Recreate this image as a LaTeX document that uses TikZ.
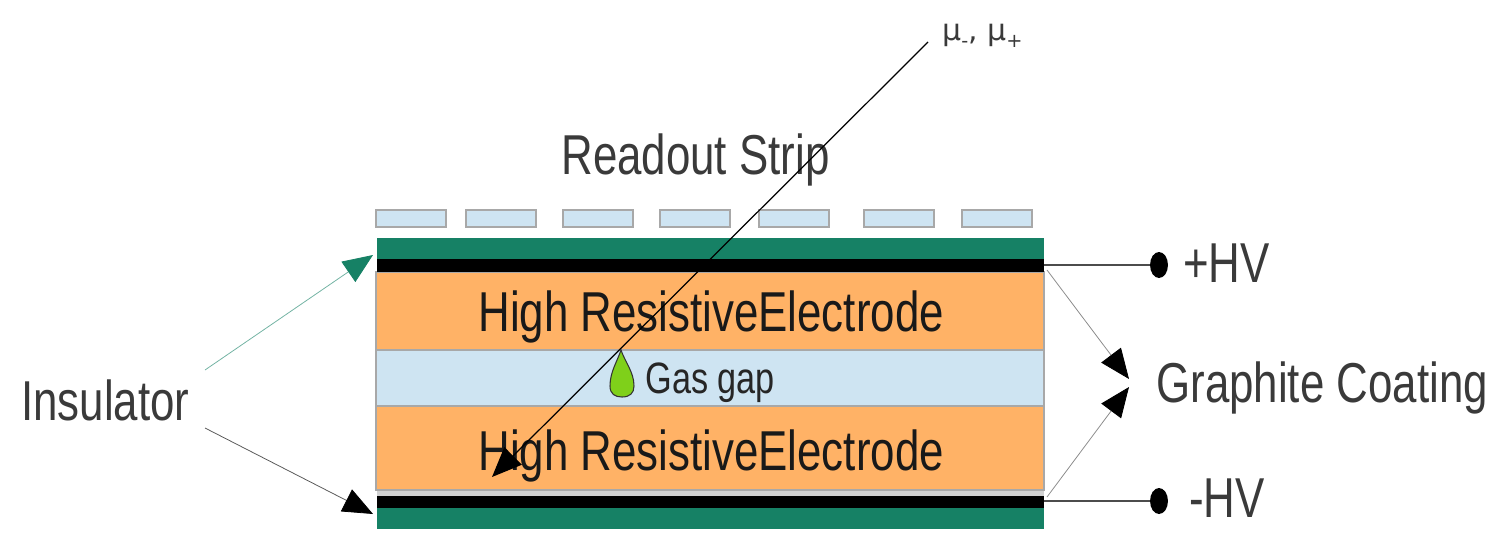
\documentclass[tikz,border=0pt]{standalone}
\usepackage{fontspec}
\usetikzlibrary{arrows.meta,shapes.geometric}
\setmainfont{Liberation Sans}
\newfontfamily\nar[FakeStretch=0.78]{Liberation Sans}
\definecolor{gr}{HTML}{168165}
\definecolor{org}{HTML}{FFB266}
\definecolor{lb}{HTML}{CEE4F2}
\definecolor{edge}{HTML}{A8A8A8}
\definecolor{tx}{HTML}{3A3A3A}
\definecolor{drop}{HTML}{7FD01A}
\tikzset{
 x=0.02cm,y=-0.02cm,
 strip/.style={draw=edge,line width=1.2pt,fill=lb},
 cell/.style={draw=edge,line width=1pt,fill=#1},
 lab/.style={inner sep=0pt,anchor=base west,text=tx,font=\nar\fontsize{#1}{#1}\selectfont},
 wire/.style={draw=black!70,line width=0.7pt},
 hv dot/.style={ellipse,fill=black,inner sep=0pt,minimum width=10.2pt,minimum height=14.8pt},
 pointer/.style 2 args={draw=#1,line width=0.45pt,-{Triangle[length=17pt,width=14pt,color=#2,fill=#2]}},
}
\begin{document}
\begin{tikzpicture}
\useasboundingbox (0,0) rectangle (1491,534);
% strips
\foreach \a/\b in {376/446,466/536,563/633,660/730,759/829,864/934,962/1032}
  \draw[strip] (\a,210) rectangle (\b,227);
% layers
\fill[gr] (377,238) rectangle (1044,259);
\fill[gr] (377,508) rectangle (1044,529);
\draw[cell=org] (376,272) rectangle (1044,350);
\draw[cell=lb] (376,350) rectangle (1044,406);
\draw[cell=org] (376,406) rectangle (1044,490);
\fill[black!18] (377,491) rectangle (1044,496);
\fill[black] (377,259) rectangle (1044,272);
\fill[black] (377,496) rectangle (1044,508);
% anchors
\coordinate (topE) at (1044,265);
\coordinate (botE) at (1044,501);
\coordinate (topS) at (1047,270);
\coordinate (botS) at (1047,497);
\coordinate (tipA) at (1129,379);
\coordinate (tipB) at (1129,387);
\coordinate (insA) at (205,370);
\coordinate (insB) at (205,428);
\coordinate (tipC) at (373,255);
\coordinate (tipD) at (373,514);
\coordinate (muS) at (928,42);
\coordinate (muE) at (492,477);
% dots and wires
\node[hv dot] (dotA) at (1159,265) {};
\node[hv dot] (dotB) at (1159,501) {};
\draw[wire] (topE) -- (dotA);
\draw[wire] (botE) -- (dotB);
% arrows
\draw[pointer={black!45}{black}] (topS) -- (tipA);
\draw[pointer={black!45}{black}] (botS) -- (tipB);
\draw[pointer={gr!60}{gr}] (insA) -- (tipC);
\draw[pointer={black!65}{black}] (insB) -- (tipD);
% drop
\draw[fill=drop,draw=black!80,line width=0.6pt] (621,350) .. controls (617,362) and (610,372) .. (610,386)
  .. controls (610,394) and (615,397) .. (622,397) .. controls (630,397) and (634,393) .. (634,386)
  .. controls (634,372) and (625,362) .. (621,350) -- cycle;
% labels
\node[lab=32,text=black!90] (e1) at (478,331) {High ResistiveElectrode};
\node[lab=32,text=black!90] (e2) at (478,470) {High ResistiveElectrode};
\node[lab=25,text=black!85] (gas) at (645,393) {Gas gap};
\node[lab=32] (ro) at (561,174) {Readout Strip};
\node[lab=32] (ins) at (21,420) {Insulator};
\node[lab=32] (gc) at (1156,402) {Graphite Coating};
\node[lab=32] (ph) at (1183,282) {+HV};
\node[lab=32] (mh) at (1189,517) {-HV};
\node[inner sep=0pt,anchor=base west,text=tx,font=\fontsize{17}{17}\selectfont] (mu) at (942,40)
  {\fontspec{DejaVu Sans}μ\raisebox{-4pt}{\fontsize{11}{11}\selectfont -}, μ\raisebox{-4pt}{\fontsize{11}{11}\selectfont +}};
% muon
\draw[pointer={black}{black},line width=0.7pt] (muS) -- (muE);
\end{tikzpicture}
\end{document}
